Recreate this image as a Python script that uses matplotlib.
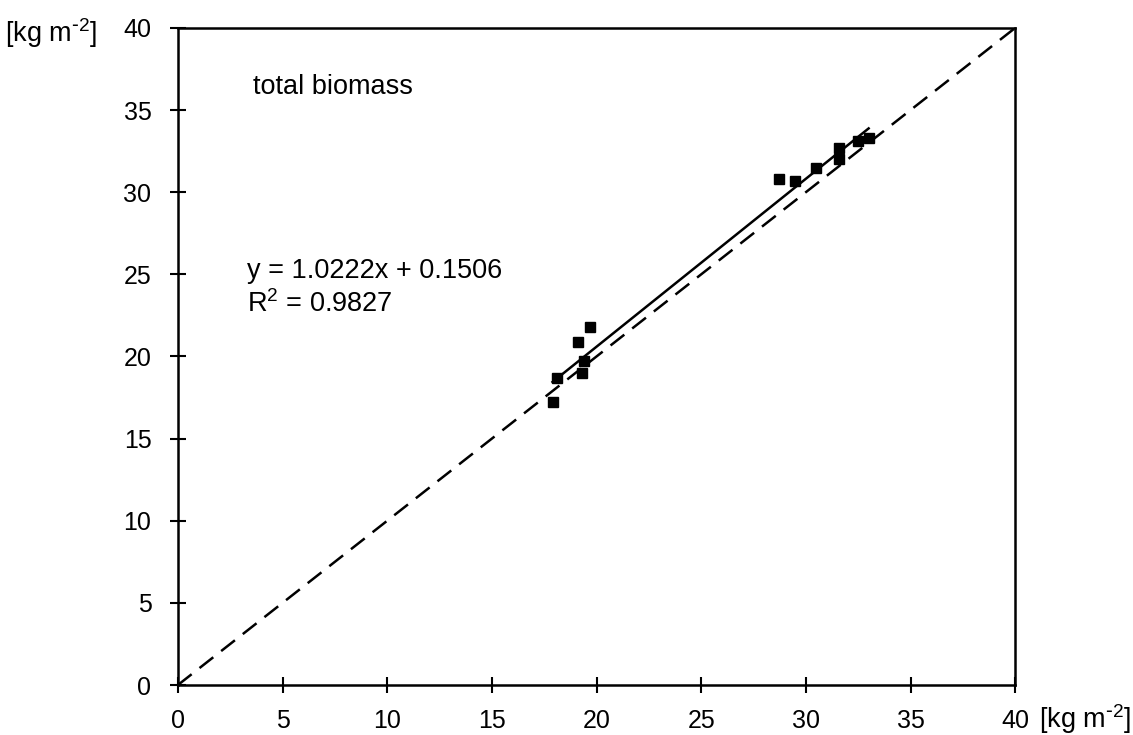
import numpy as np
import matplotlib.pyplot as plt

plt.rcParams['font.family'] = ['Liberation Sans', 'DejaVu Sans']

# measured vs modelled total biomass [kg m-2]
obs_x = [17.9, 18.1, 19.1, 19.7, 19.4, 19.3, 28.7, 29.5, 30.5, 31.6, 31.6, 32.5, 33.0]
mod_y = [17.2, 18.7, 20.9, 21.8, 19.7, 19.0, 30.8, 30.7, 31.5, 32.7, 32.0, 33.1, 33.3]
slope = 1.0222
intercept = 0.1506
r2 = 0.9827
ticks = [0, 5, 10, 15, 20, 25, 30, 35, 40]

fig = plt.figure(figsize=(11.33, 7.35), dpi=100)
ax = fig.add_axes([0.157, 0.068, 0.739, 0.894])

# 1:1 line
ax.plot([0, 40], [0, 40], '--', color='black', lw=1.8, dashes=(7, 4), clip_on=False)
# regression line
fx = np.array([min(obs_x), max(obs_x)])
ax.plot(fx, slope * fx + intercept, '-', color='black', lw=1.8)
ax.plot(obs_x, mod_y, 's', color='black', ms=7)

ax.set_xlim(0, 40)
ax.set_ylim(0, 40)
ax.set_xticks(ticks)
ax.set_yticks(ticks)
ax.tick_params(direction='inout', length=12, width=1.5, labelsize=18)
ax.tick_params(axis='x', pad=11)
ax.tick_params(axis='y', pad=13)
for sp in ax.spines.values():
    sp.set_linewidth(1.8)

ax.text(3.6, 36.4, 'total biomass', fontsize=19.5, va='center')
ax.text(3.3, 25.2, 'y = %.4fx + %.4f' % (slope, intercept), fontsize=19.5, va='center')
ax.text(3.3, 23.2, '$\\mathregular{R^2}$ = %.4f' % r2, fontsize=19.5, va='center')

unit = '[kg m$\\mathregular{^{\\text{-}2}}$]'
fig.text(0.004, 0.955, unit, fontsize=19.5, va='center')
fig.text(0.917, 0.022, unit, fontsize=19.5, va='center')

fig.savefig('out.png', dpi=100)
